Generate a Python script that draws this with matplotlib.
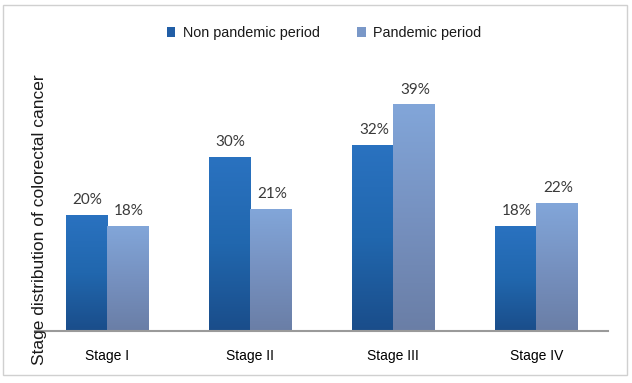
import matplotlib
matplotlib.use("Agg")
import matplotlib.pyplot as plt
import numpy as np
from matplotlib.colors import LinearSegmentedColormap
from matplotlib.patches import Rectangle

categories = ["Stage I", "Stage II", "Stage III", "Stage IV"]
non_pandemic = [20, 30, 32, 18]
pandemic = [18, 21, 39, 22]
series_names = ["Non pandemic period", "Pandemic period"]

fig = plt.figure(figsize=(6.32, 3.83), dpi=100)
fig.patches.append(Rectangle((3/632, 1 - 375/383), 624/632, 370/383, transform=fig.transFigure,
                             fill=False, edgecolor="#d0d0d0", linewidth=1.0))

ax = fig.add_axes([35/632, 1 - 331/383, 573/632, 251/383])
x = np.arange(len(categories))
w = 0.287

dark_cmap = LinearSegmentedColormap.from_list("d", ["#1a4d8a", "#2167ae", "#2a72c0"])
light_cmap = LinearSegmentedColormap.from_list("l", ["#6a7ea6", "#7691c0", "#82a6d9"])

b1 = ax.bar(x - w/2, non_pandemic, w, color="none", edgecolor="none")
b2 = ax.bar(x + w/2, pandemic, w, color="none", edgecolor="none")

grad = np.linspace(0, 1, 256).reshape(-1, 1)
for bars, cmap in ((b1, dark_cmap), (b2, light_cmap)):
    for p in bars:
        x0, y0 = p.get_x(), p.get_y()
        ax.imshow(grad, cmap=cmap, origin="lower", aspect="auto",
                  extent=(x0, x0 + p.get_width(), y0, y0 + p.get_height()), zorder=2)

for bars, vals in ((b1, non_pandemic), (b2, pandemic)):
    for p, v in zip(bars, vals):
        ax.annotate(f"{v}%", (p.get_x() + p.get_width()/2, p.get_height()),
                    xytext=(1, 6), textcoords="offset points", ha="center", va="bottom",
                    fontsize=11, color="#3a3a3a", family="Lato")

ax.set_xlim(-0.5, 3.5)
ax.set_ylim(0, 43.3)
for s in ["top", "right", "left"]:
    ax.spines[s].set_visible(False)
ax.spines["bottom"].set_color("#9a9a9a")
ax.spines["bottom"].set_linewidth(1.5)
ax.set_yticks([])
ax.set_xticks(x)
ax.set_xticklabels(categories, fontsize=10, family="Liberation Sans", color="#000000")
ax.tick_params(axis="x", length=0, pad=13)

fig.text(40/632, 1 - 220/383, "Stage distribution of colorectal cancer", rotation=90,
         ha="center", va="center", fontsize=12.5, family="Liberation Sans", color="#1a1a1a")

handles = [Rectangle((0, 0), 1, 1, facecolor="#215ea6"), Rectangle((0, 0), 1, 1, facecolor="#7a98c8")]
leg = fig.legend(handles, series_names, loc="center", bbox_to_anchor=(324/632, 1 - 33/383),
                 ncol=2, frameon=False, handlelength=0.6, handleheight=0.7, handletextpad=0.5,
                 columnspacing=2.6, prop={"family": "Liberation Sans", "size": 10.4})
for t in leg.get_texts():
    t.set_color("#1a1a1a")

fig.savefig("out.png", dpi=100)
